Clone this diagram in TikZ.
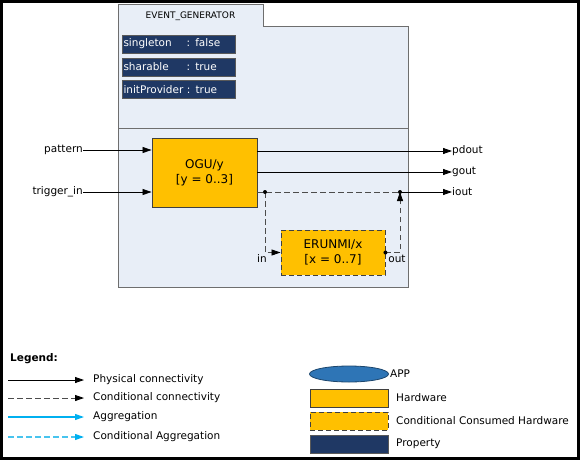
\documentclass[tikz,border=0pt]{standalone}
\usepackage{fontspec}
\setmainfont{DejaVu Sans}
\usetikzlibrary{arrows.meta,shapes.geometric}
\definecolor{hwfill}{HTML}{FFC000}
\definecolor{propfill}{HTML}{1F3864}
\definecolor{blockfill}{HTML}{E8EEF7}
\definecolor{blockline}{HTML}{6E6E6E}
\definecolor{appfill}{HTML}{2E75B6}
\definecolor{aggrcol}{HTML}{00B0F0}
\definecolor{condaggrcol}{HTML}{48C4EE}
\tikzset{
  lbl/.style={inner sep=0pt,font=\fontsize{10.5}{12}\selectfont},
  hw/.style={draw=black!75,fill=hwfill,line width=0.9pt,align=center,inner sep=0pt,
    font=\fontsize{12}{14}\selectfont},
  condhw/.style={hw,dash pattern=on 5pt off 3pt},
  prop/.style={draw=black!65,fill=propfill,text=white,line width=0.8pt,inner xsep=1.5pt,
    inner ysep=0pt,text width=110pt,minimum height=18pt,align=left,
    font=\fontsize{10.5}{12}\selectfont},
  phys/.style={line width=0.8pt,-{Triangle[length=9pt,width=6pt,black]}},
  cond/.style={phys,draw=black!70,dash pattern=on 5.5pt off 3.5pt},
  aggr/.style={line width=1.1pt,draw=aggrcol,-{Triangle[length=9pt,width=6pt,aggrcol]}},
  condaggr/.style={line width=1.1pt,draw=condaggrcol,dash pattern=on 5.5pt off 3.5pt,
    -{Triangle[length=9pt,width=6pt,aggrcol]}},
  joint/.style={circle,fill=black,inner sep=0pt,minimum size=4pt}
}
\newcommand{\pkey}[1]{\makebox[63pt][l]{#1}}

\begin{document}
\begin{tikzpicture}[x=1pt,y=-1pt]
\useasboundingbox (0,0) rectangle (580,460);
\draw[line width=3pt] (1.5,1.5) rectangle (578.5,458.5);

% event generator block
\draw[blockline,fill=blockfill,line width=1pt] (118,5) -- (263,5) -- (263,27) -- (408,27)
  -- (408,287) -- (118,287) -- cycle;
\draw[blockline,line width=1pt] (118,128) -- (408,128);
\node[inner sep=0pt,font=\fontsize{9}{10}\selectfont] (title) at (190.5,16) {EVENT\_GENERATOR};

\node[prop] (singleton) at (178.5,44) {\pkey{singleton}: false};
\node[prop] (sharable) at (178.5,67) {\pkey{sharable}: true};
\node[prop] (initprov) at (178.5,89.5) {initProvider : true};

\node[hw,minimum width=105pt,minimum height=69pt] (ogu) at (204.5,172.5) {OGU/y\\[1pt][y = 0..3]};
\node[condhw,minimum width=104pt,minimum height=45pt] (erunmi) at (333,252.5) {ERUNMI/x\\[1pt][x = 0..7]};

\node[lbl,anchor=east] (pattern) at (83,150) {pattern};
\node[lbl,anchor=east] (trigger) at (83,192) {trigger\_in};
\node[lbl,anchor=west] (pdout) at (452,151) {pdout};
\node[lbl,anchor=west] (gout) at (452,172) {gout};
\node[lbl,anchor=west] (iout) at (452,192) {iout};
\node[lbl,anchor=base] (inlbl) at (262,262) {in};
\node[lbl,anchor=base] (outlbl) at (397,262) {out};

\coordinate (ja) at (265,192);
\coordinate (jb) at (400,192);

\draw[phys] (pattern.east) -- (pattern -| ogu.west);
\draw[phys] (trigger.east) -- (trigger -| ogu.west);
\draw[phys] (pdout -| ogu.east) -- (pdout.west);
\draw[phys] (gout -| ogu.east) -- (gout.west);
\draw[cond,-] (jb -| ogu.east) -- (jb);
\draw[phys] (jb) -- (iout.west);
\draw[cond] (ja) |- (erunmi.west);
\draw[cond] (erunmi.east) -| (jb);
\node[joint] at (ja) {};
\node[joint] at (jb) {};
\node[joint] at (erunmi.east) {};

% legend
\node[lbl,anchor=west,font=\fontsize{10.5}{12}\selectfont\bfseries] (legend) at (10,359) {Legend:};
\foreach \ly/\lst/\ltxt [count=\i] in {380/phys/Physical connectivity,
    398/cond/Conditional connectivity, 417/aggr/Aggregation,
    437/condaggr/Conditional Aggregation}{
  \coordinate (legs\i) at (8,\ly);
  \coordinate (lege\i) at (84,\ly);
  \node[lbl,anchor=west] (leg\i) at (93,\ly) {\ltxt};
  \draw[\lst] (legs\i) -- (lege\i);
}

\node[ellipse,draw=appfill!60!black,fill=appfill,line width=0.8pt,minimum width=79pt,
  minimum height=16pt,inner sep=0pt] (app) at (349,374) {};
\node[lbl,anchor=west] (applbl) at (390,374) {APP};
\node[hw,minimum width=78pt,minimum height=18pt] (hwkey) at (349,398) {};
\node[lbl,anchor=west] (hwlbl) at (396,398) {Hardware};
\node[condhw,minimum width=78pt,minimum height=18pt] (condkey) at (349,421) {};
\node[lbl,anchor=west] (condlbl) at (396,421) {Conditional Consumed Hardware};
\node[prop,text width=75pt,minimum height=18pt] (propkey) at (349,444) {};
\node[lbl,anchor=west] (proplbl) at (396,444) {Property};
\end{tikzpicture}
\end{document}
